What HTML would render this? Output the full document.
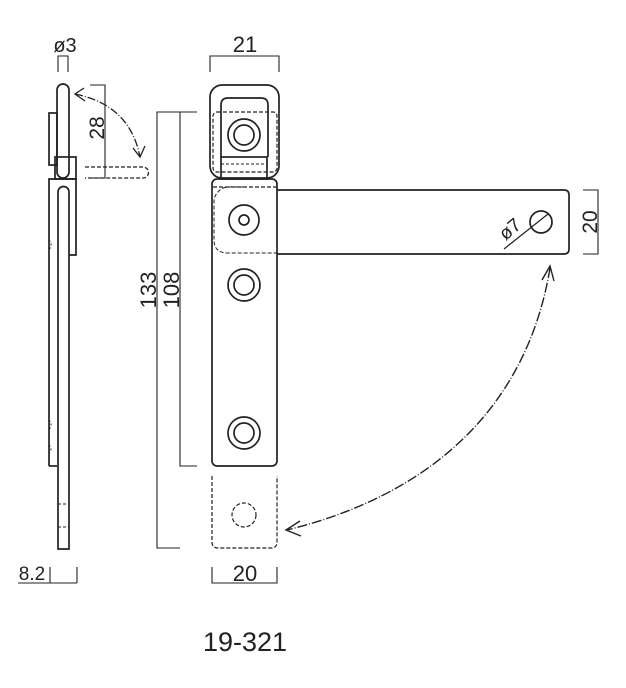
<!DOCTYPE html>
<html><head><meta charset="utf-8"><style>
html,body{margin:0;padding:0;background:#fff;}
svg{display:block;}
text{font-family:"Liberation Sans",sans-serif;fill:#222;}
</style></head><body>
<svg width="626" height="688" viewBox="0 0 626 688" xmlns="http://www.w3.org/2000/svg">
<rect width="626" height="688" fill="#fff"/>
<g fill="none" stroke="#222" stroke-width="1.7">
<!-- side view -->
<rect x="57" y="84" width="12" height="94" rx="6"/>
<rect x="49" y="113" width="8" height="52"/>
<rect x="55" y="157" width="21" height="22"/>
<path d="M49,466 V179 H76 V255 H69"/>
<path d="M49,466 H57"/>
<path d="M58,549 V192 a5.5,5.5 0 0 1 11,0 V549 Z"/>
<path d="M49,240 q4,4 0,10 M49,420 q4,4 0,10 M49,445 q4,4 0,8" stroke-width="1" stroke-dasharray="2 2"/>
<path d="M58,504 H69 M58,527 H69" stroke-dasharray="3 2" stroke-width="1"/>
<path d="M85,167 H143 a5.5,5.5 0 0 1 0,11 H85" stroke-dasharray="4 2" stroke-width="1.3"/>
<path d="M75,94 Q130,105 140,157" stroke-width="1.3" stroke-dasharray="8 2 1 2"/>
<path d="M84,88 L75,94 L85,101" stroke-width="1.3"/>
<path d="M133,148 L140,157 L145,146" stroke-width="1.3"/>
<!-- dims side -->
<path d="M58,72 V56 H68 V72" stroke-width="1.1"/>
<path d="M90,85 H105 V178 H88" stroke-width="1.1"/>
<path d="M18,583 H77 M50,567 V583 M77,567 V583" stroke-width="1.1"/>
<path d="M197,112 H157 V548 H180 M180,112 V466 H197" stroke-width="1.1"/>
<!-- front view -->
<rect x="210" y="85" width="69" height="93" rx="12"/>
<path d="M221,157 V105 q0,-7 7,-7 H261 q7,0 7,7 V157"/>
<rect x="213" y="112" width="64" height="60" rx="4" stroke-dasharray="4 2" stroke-width="1.2"/>
<rect x="221" y="157" width="46" height="22"/>
<path d="M221,164 H267" stroke-dasharray="3 2" stroke-width="1"/>
<rect x="212" y="179" width="65" height="287" rx="5"/>
<path d="M277,190 H564 q5,0 5,5 V249 q0,5 -5,5 H277"/>
<path d="M213,187 H277" stroke-dasharray="4 2" stroke-width="1.3"/>
<path d="M244,187 H228 a15,15 0 0 0 -14,15 V240 q0,13 14,13 H277" stroke-dasharray="4 2" stroke-width="1"/>
<circle cx="244" cy="135" r="16"/><circle cx="244" cy="135" r="10"/>
<circle cx="244" cy="220" r="15"/><circle cx="244" cy="220" r="5"/>
<circle cx="244" cy="285" r="16"/><circle cx="244" cy="285" r="10"/>
<circle cx="244" cy="433" r="16"/><circle cx="244" cy="433" r="10"/>
<circle cx="541" cy="222" r="11"/>
<path d="M504,249 L548,214" stroke-width="1.2"/>
<path d="M212,476 V542 q0,6 6,6 H271 q6,0 6,-6 V476" stroke-dasharray="4 2" stroke-width="1.2"/>
<circle cx="244" cy="515" r="12" stroke-dasharray="4 2" stroke-width="1.2"/>
<!-- big arrow -->
<path d="M550,268 C530,390 450,490 287,530" stroke-width="1.4" stroke-dasharray="10 2 1 2"/>
<path d="M542,280 L550,266 L554,281" stroke-width="1.4"/>
<path d="M300,521 L286,530 L301,536" stroke-width="1.4"/>
<!-- dims front -->
<path d="M210,72 V56 H279 V72" stroke-width="1.1"/>
<path d="M212,567 V583 H277 V567" stroke-width="1.1"/>
<path d="M583,190 H598 V254 H583" stroke-width="1.1"/>
</g>
<text x="65" y="52" font-size="20" text-anchor="middle">ø3</text>
<text x="245" y="52" font-size="22" text-anchor="middle">21</text>
<text x="32" y="580" font-size="19" text-anchor="middle">8.2</text>
<text x="245" y="581" font-size="22" text-anchor="middle">20</text>
<text transform="translate(104,128) rotate(-90)" font-size="21" text-anchor="middle">28</text>
<text transform="translate(156,290) rotate(-90)" font-size="22" text-anchor="middle">133</text>
<text transform="translate(179,290) rotate(-90)" font-size="22" text-anchor="middle">108</text>
<text transform="translate(597,222) rotate(-90)" font-size="21" text-anchor="middle">20</text>
<text transform="translate(514,234) rotate(-40)" font-size="19" text-anchor="middle">ø7</text>
<text x="245" y="651" font-size="27" text-anchor="middle" fill="#000">19-321</text>
</svg>
</body></html>
